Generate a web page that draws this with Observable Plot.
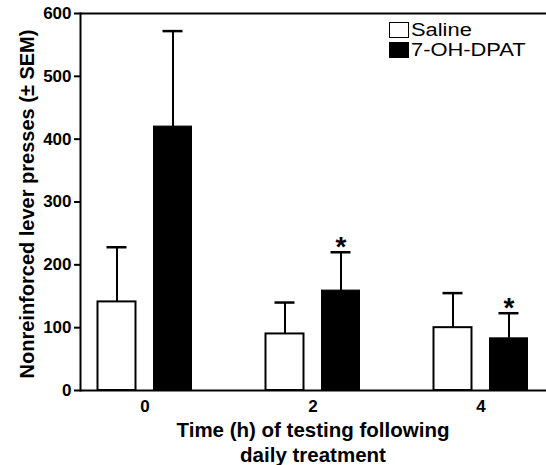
<!DOCTYPE html>
<html><head><meta charset="utf-8">
<script src="https://cdn.jsdelivr.net/npm/d3@7"></script>
<script src="https://cdn.jsdelivr.net/npm/@observablehq/plot@0.6"></script>
<style>
body{margin:0;background:#fff;font-family:"Liberation Sans",Arial,sans-serif;}
#wrap{position:relative;width:546px;height:465px;}
.legend{position:absolute;left:389px;top:20px;font-size:17.5px;line-height:20px;color:#000;}
.legend .row{display:flex;align-items:center;height:20px;}
.legend .sw{width:20px;height:16px;border:1.5px solid #000;box-sizing:border-box;margin-right:2px;}
.legend .lb{display:inline-block;transform:scaleX(1.25);transform-origin:left center;}
.xtitle{position:absolute;left:80px;width:466px;top:417px;text-align:center;font-weight:bold;font-size:20.5px;line-height:25px;color:#000;}
</style></head><body><div id="wrap"></div>
<script>
const times = [0, 2, 4];
const treatments = ["Saline", "7-OH-DPAT"];
const salineMean = [141, 90, 100];
const salineUpper = [228, 140, 155];
const dpatMean = [420, 159, 83];
const dpatUpper = [572, 220, 123];
const dpatSignificant = [false, true, true];
const yTicks = [0, 100, 200, 300, 400, 500, 600];
const yTitle = "Nonreinforced lever presses (± SEM)";
const xTitle = ["Time (h) of testing following", "daily treatment"];

const saline = times.map((t, i) => ({time: t, treatment: treatments[0], mean: salineMean[i], upper: salineUpper[i]}));
const dpat = times.map((t, i) => ({time: t, treatment: treatments[1], mean: dpatMean[i], upper: dpatUpper[i], sig: dpatSignificant[i]}));

const chart = Plot.plot({
  width: 546, height: 420,
  marginLeft: 80, marginRight: 0, marginTop: 13, marginBottom: 30,
  style: {fontFamily: "'Liberation Sans', Arial, sans-serif", color: "#000", background: "#fff"},
  x: {type: "band", domain: times, range: [60.5, 564.5], padding: 0, round: false},
  y: {domain: [0, 600]},
  marks: [
    Plot.ruleX(saline, {x: "time", y1: "mean", y2: "upper", dx: -28, stroke: "#000", strokeWidth: 2}),
    Plot.ruleX(dpat, {x: "time", y1: "mean", y2: "upper", dx: 28, stroke: "#000", strokeWidth: 2}),
    Plot.tickY(saline, {x: "time", y: "upper", insetLeft: 46, insetRight: 102, stroke: "#000", strokeWidth: 2.5}),
    Plot.tickY(dpat, {x: "time", y: "upper", insetLeft: 102, insetRight: 46, stroke: "#000", strokeWidth: 2.5}),
    Plot.barY(saline, {x: "time", y: "mean", insetLeft: 37, insetRight: 93, fill: "#fff", stroke: "#000", strokeWidth: 2}),
    Plot.barY(dpat, {x: "time", y: "mean", insetLeft: 93, insetRight: 37, fill: "#000", stroke: "#000", strokeWidth: 1}),
    Plot.text(dpat.filter(d => d.sig), {x: "time", y: "upper", text: () => "*", dx: 28, dy: -5, fontSize: 28, fontWeight: "bold"}),
    Plot.ruleY([0], {stroke: "#000", strokeWidth: 2}),
    Plot.ruleY([600], {stroke: "#000", strokeWidth: 2}),
    Plot.frame({anchor: "left", stroke: "#000", strokeWidth: 2}),
    Plot.axisY({ticks: yTicks, tickSize: 6, tickPadding: 3, fontSize: 17, fontWeight: "bold", label: null, strokeWidth: 2}),
    Plot.axisX({tickSize: 0, tickPadding: 9, fontSize: 17, fontWeight: "bold", label: null}),
    Plot.text([yTitle], {frameAnchor: "left", textAnchor: "middle", rotate: -90, dx: -53, dy: 2, fontSize: 20, fontWeight: "bold"})
  ]
});

const wrap = document.getElementById("wrap");
wrap.appendChild(chart);

const legend = document.createElement("div");
legend.className = "legend";
[["#fff", treatments[0]], ["#000", treatments[1]]].forEach(([c, label]) => {
  const row = document.createElement("div");
  row.className = "row";
  const sw = document.createElement("span");
  sw.className = "sw";
  sw.style.background = c;
  row.appendChild(sw);
  const tx = document.createElement("span");
  tx.className = "lb";
  tx.textContent = label;
  row.appendChild(tx);
  legend.appendChild(row);
});
wrap.appendChild(legend);

const xt = document.createElement("div");
xt.className = "xtitle";
xt.innerHTML = xTitle.map(s => `<div>${s}</div>`).join("");
wrap.appendChild(xt);
</script>
</body></html>
